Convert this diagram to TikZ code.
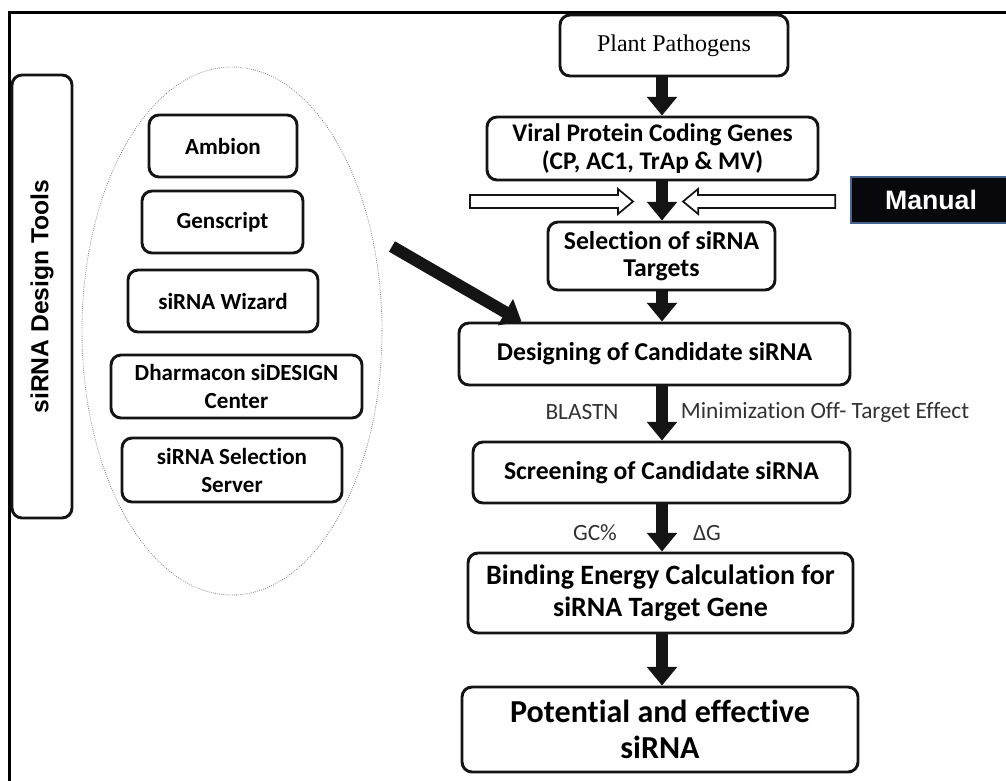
\documentclass[tikz,border=0pt]{standalone}
\usepackage{fontspec}
\setmainfont[Ligatures=NoCommon]{Carlito}
\newfontfamily\arialfont{Liberation Sans}
\newfontfamily\timesfont{Liberation Serif}
\usepackage{tikz}
\usetikzlibrary{arrows.meta, positioning, shapes.geometric}
\definecolor{boxline}{RGB}{20,20,20}
\definecolor{manualline}{RGB}{70,100,140}
\definecolor{manualfill}{RGB}{8,8,12}
\definecolor{notetext}{RGB}{50,50,50}

\begin{document}
\begin{tikzpicture}[x=0.75pt, y=-0.75pt,
    flowbox/.style={draw=boxline, line width=2.2pt, rounded corners=7.5pt, align=center, inner sep=2pt, font=\bfseries\fontsize{19.3}{20.5}\selectfont},
    toolbox/.style={flowbox, font=\bfseries\fontsize{17.3}{21}\selectfont},
    flowarrow/.style={-{Triangle[width=22pt,length=14pt]}, line width=9pt, boxline},
    hollow/.style={draw=boxline, line width=1.3pt, fill=white, line join=miter},
    note/.style={font=\fontsize{17.5}{20}\selectfont, text=notetext}
  ]
    \useasboundingbox (0,0) rectangle (1006,781);
    \draw[line width=2.25pt] (1006,13) -| (9,781);

    % left side: the design tools
    \node[flowbox, rotate=90, minimum width=332.25pt, minimum height=45pt, font=\arialfont\bfseries\fontsize{18.5}{21}\selectfont] (designtools) at (42,296.5) {siRNA Design Tools};
    \node[ellipse, draw=gray, densely dotted, line width=0.6pt, minimum width=225pt, minimum height=396pt, inner sep=0pt] (toolset) at (232,331) {};
    \node[toolbox, minimum width=111pt, minimum height=46.5pt] (ambion) at (223,146) {Ambion};
    \node[toolbox, minimum width=120.75pt, minimum height=46.5pt] (genscript) at (222.5,222) {Genscript};
    \node[toolbox, minimum width=142.5pt, minimum height=46.5pt] (wizard) at (223,301) {siRNA Wizard};
    \node[toolbox, minimum width=188.25pt, minimum height=47.25pt] (dharmacon) at (236.5,386.5) {Dharmacon siDESIGN\\Center};
    \node[toolbox, minimum width=165pt, minimum height=48pt] (server) at (232,470) {siRNA Selection\\Server};

    % right side: the pipeline
    \coordinate (axis) at (662,0);
    \node[flowbox, minimum width=171pt, minimum height=45.75pt, font=\timesfont\fontsize{18}{21}\selectfont] (plant) at (674,45.5) {Plant Pathogens};
    \node[flowbox, minimum width=248.25pt, minimum height=47.25pt, font=\bfseries\fontsize{19}{21}\selectfont] (viral) at (652.5,148.5) {Viral Protein Coding Genes\\(CP, AC1, TrAp \& MV)};
    \node[flowbox, minimum width=170.25pt, minimum height=51pt] (select) at (661.5,256) {Selection of siRNA\\Targets};
    \node[flowbox, minimum width=293.25pt, minimum height=46.5pt] (design) at (654.5,354) {Designing of Candidate siRNA};
    \node[flowbox, minimum width=282.75pt, minimum height=45.75pt] (screen) at (661.5,472.5) {Screening of Candidate siRNA};
    \node[flowbox, minimum width=288.75pt, minimum height=60pt, font=\bfseries\fontsize{21}{24}\selectfont] (binding) at (660.5,593) {Binding Energy Calculation for\\siRNA Target Gene};
    \node[flowbox, minimum width=297pt, minimum height=63.75pt, font=\bfseries\fontsize{24}{27}\selectfont] (potential) at (660,729.5) {Potential and effective\\siRNA};

    \node[draw=manualline, fill=manualfill, line width=1.2pt, minimum width=120pt, minimum height=34.5pt, text=white, font=\arialfont\bfseries\fontsize{20}{24}\selectfont] (manual) at (931,200) {Manual};

    \draw[flowarrow] (plant.south -| axis) -- (viral.north -| axis);
    \draw[flowarrow] (viral.south -| axis) -- (select.north -| axis);
    \draw[flowarrow] (select.south -| axis) -- (design.north -| axis);
    \draw[flowarrow] (design.south -| axis) -- (screen.north -| axis);
    \draw[flowarrow] (screen.south -| axis) -- (binding.north -| axis);
    \draw[flowarrow] (binding.south -| axis) -- (potential.north -| axis);
    \draw[flowarrow] ([shift={(16,-8)}]toolset.28) -- ([xshift=48pt]design.north west);

    % open arrows beside the second arrow
    \coordinate (leftin) at (633,201.5);
    \coordinate (rightin) at (683,201.5);
    \draw[hollow] (leftin) -- ++(-15,-12.5) -- ++(0,6) -- ++(-148,0) -- ++(0,13) -- ++(148,0) -- ++(0,6) -- cycle;
    \draw[hollow] (rightin) -- ++(15,-12.5) -- ++(0,6) -- ([xshift=-11.25pt,yshift=3.75pt]manual.west) -- ([xshift=-11.25pt,yshift=-6pt]manual.west) -- ++(-137,0) -- ++(0,6) -- cycle;

    \node[note] (blastn) at (582,412) {BLASTN};
    \node[note] (offtarget) at (825,412) {Minimization Off- Target Effect};
    \node[note] (gc) at (595,533) {GC\%};
    \node[note] (dg) at (707,533) {ΔG};
  \end{tikzpicture}
\end{document}
